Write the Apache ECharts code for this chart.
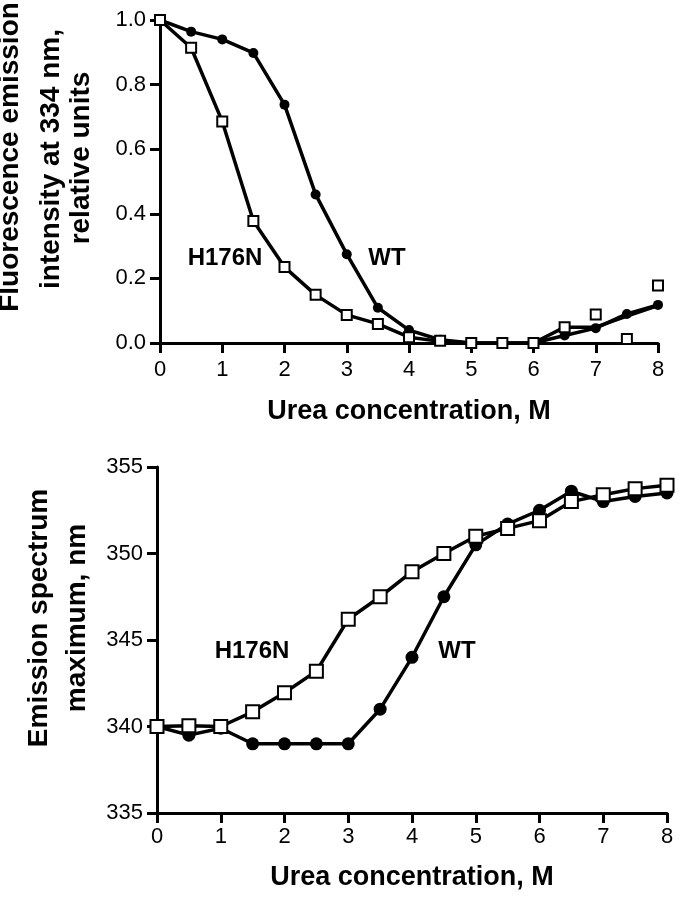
<!DOCTYPE html>
<html>
<head>
<meta charset="utf-8">
<script src="https://cdn.jsdelivr.net/npm/echarts@6/dist/echarts.min.js"></script>
<style>
html,body{margin:0;padding:0;background:#fff;}
#chart{width:683px;height:899px;}
</style>
</head>
<body>
<div id="chart"></div>
<script>
// Urea concentration, M
var urea = [0, 0.5, 1, 1.5, 2, 2.5, 3, 3.5, 4, 4.5, 5, 5.5, 6, 6.5, 7, 7.5, 8];
var xTicks = [0, 1, 2, 3, 4, 5, 6, 7, 8];

// Top panel: fluorescence emission intensity at 334 nm (relative units)
var wtIntensity    = [1.00, 0.964, 0.94, 0.898, 0.738, 0.46, 0.275, 0.109, 0.04, 0.01, 0, 0, 0, 0.023, 0.046, 0.09, 0.118];
var h176nIntensity = [1.00, 0.914, 0.686, 0.378, 0.235, 0.149, 0.087, 0.059, 0.018, 0.007, 0, 0, 0, 0.049, 0.088, 0.012, 0.178];
// fitted curve drawn through the H176N points
var h176nIntensityFit = [1.00, 0.914, 0.686, 0.378, 0.235, 0.149, 0.087, 0.059, 0.018, 0.005, 0, 0, 0, 0.049, 0.049, 0.083, 0.116];
var topYTicks = ['0.0', '0.2', '0.4', '0.6', '0.8', '1.0'];

// Bottom panel: emission spectrum maximum, nm
var wtMax    = [340.0, 339.5, 339.9, 339.0, 339.0, 339.0, 339.0, 341.0, 344.0, 347.5, 350.5, 351.7, 352.5, 353.6, 353.0, 353.3, 353.5];
var h176nMax = [340.0, 340.05, 340.0, 340.85, 341.95, 343.2, 346.2, 347.5, 348.95, 350.0, 351.0, 351.45, 351.9, 353.0, 353.4, 353.75, 353.95];

var labelCurves = ['H176N', 'WT'];
var topTitleLines = ['Fluorescence emission', 'intensity at 334 nm,', 'relative units'];
var bottomTitleLines = ['Emission spectrum', 'maximum, nm'];
var xTitle = 'Urea concentration, M';

function pairs(xs, ys) { return xs.map(function (x, i) { return [x, ys[i]]; }); }

var FONT = '"Liberation Sans", Arial, sans-serif';
var axisLineStyle = { color: '#000', width: 3 };

function xAxisCfg(gridIndex, gap, margin) {
  return {
    type: 'value', gridIndex: gridIndex, min: 0, max: 8, interval: 1,
    name: xTitle, nameLocation: 'middle', nameGap: gap,
    nameTextStyle: { fontFamily: FONT, fontWeight: 'bold', fontSize: 27, color: '#000' },
    axisLine: { show: true, onZero: false, lineStyle: axisLineStyle },
    axisTick: { show: true, length: 10, lineStyle: axisLineStyle },
    axisLabel: { fontFamily: FONT, fontSize: 22, color: '#000', margin: margin,
      formatter: function (v) { return xTicks.indexOf(v) >= 0 ? String(v) : ''; } },
    splitLine: { show: false }
  };
}

var option = {
  backgroundColor: '#fff',
  animation: false,
  grid: [
    { left: 160, right: 25, top: 20, bottom: 556 },
    { left: 157, right: 16, top: 467, bottom: 86 }
  ],
  xAxis: [xAxisCfg(0, 55, 16), xAxisCfg(1, 51, 13)],
  yAxis: [
    {
      type: 'value', gridIndex: 0, min: 0, max: 1, interval: 0.2,
      axisLine: { show: true, onZero: false, lineStyle: axisLineStyle },
      axisTick: { show: true, length: 10, lineStyle: axisLineStyle },
      axisLabel: { fontFamily: FONT, fontSize: 22, color: '#000', margin: 14,
        formatter: function (v) { return topYTicks[Math.round(v / 0.2)]; } },
      splitLine: { show: false }
    },
    {
      type: 'value', gridIndex: 1, min: 335, max: 355, interval: 5,
      axisLine: { show: true, onZero: false, lineStyle: axisLineStyle },
      axisTick: { show: true, length: 10, lineStyle: axisLineStyle },
      axisLabel: { fontFamily: FONT, fontSize: 22, color: '#000', margin: 14 },
      splitLine: { show: false }
    }
  ],
  series: [
    // top: WT line + filled circles
    { type: 'line', xAxisIndex: 0, yAxisIndex: 0, data: pairs(urea, wtIntensity),
      symbol: 'circle', symbolSize: 10, showAllSymbol: true,
      lineStyle: { color: '#000', width: 3.5 }, itemStyle: { color: '#000', opacity: 1 }, z: 3 },
    // top: H176N fitted line
    { type: 'line', xAxisIndex: 0, yAxisIndex: 0, data: pairs(urea, h176nIntensityFit),
      symbol: 'none', lineStyle: { color: '#000', width: 3.5 }, z: 2 },
    // top: H176N open squares
    { type: 'scatter', xAxisIndex: 0, yAxisIndex: 0, data: pairs(urea, h176nIntensity),
      symbol: 'rect', symbolSize: 10,
      itemStyle: { color: '#fff', borderColor: '#000', borderWidth: 2, opacity: 1 }, z: 4 },
    // bottom: WT
    { type: 'line', xAxisIndex: 1, yAxisIndex: 1, data: pairs(urea, wtMax),
      symbol: 'circle', symbolSize: 13, showAllSymbol: true,
      lineStyle: { color: '#000', width: 3.5 }, itemStyle: { color: '#000', opacity: 1 }, z: 3 },
    // bottom: H176N
    { type: 'line', xAxisIndex: 1, yAxisIndex: 1, data: pairs(urea, h176nMax),
      symbol: 'rect', symbolSize: 13, showAllSymbol: true,
      lineStyle: { color: '#000', width: 3.5 },
      itemStyle: { color: '#fff', borderColor: '#000', borderWidth: 2, opacity: 1 }, z: 4 }
  ],
  graphic: [
    { type: 'text', x: 10, y: 157, rotation: Math.PI / 2,
      style: { text: topTitleLines[0], font: 'bold 28px ' + FONT, fill: '#000', textAlign: 'center', textVerticalAlign: 'middle' } },
    { type: 'text', x: 51, y: 159, rotation: Math.PI / 2,
      style: { text: topTitleLines[1], font: 'bold 28px ' + FONT, fill: '#000', textAlign: 'center', textVerticalAlign: 'middle' } },
    { type: 'text', x: 81, y: 158, rotation: Math.PI / 2,
      style: { text: topTitleLines[2], font: 'bold 28px ' + FONT, fill: '#000', textAlign: 'center', textVerticalAlign: 'middle' } },
    { type: 'text', x: 39, y: 618, rotation: Math.PI / 2,
      style: { text: bottomTitleLines[0], font: 'bold 28px ' + FONT, fill: '#000', textAlign: 'center', textVerticalAlign: 'middle' } },
    { type: 'text', x: 77, y: 618, rotation: Math.PI / 2,
      style: { text: bottomTitleLines[1], font: 'bold 28px ' + FONT, fill: '#000', textAlign: 'center', textVerticalAlign: 'middle' } },
    { type: 'text', x: 225, y: 258,
      style: { text: labelCurves[0], font: 'bold 24px ' + FONT, fill: '#000', textAlign: 'center', textVerticalAlign: 'middle' } },
    { type: 'text', x: 387, y: 258,
      style: { text: labelCurves[1], font: 'bold 24px ' + FONT, fill: '#000', textAlign: 'center', textVerticalAlign: 'middle' } },
    { type: 'text', x: 252, y: 651,
      style: { text: labelCurves[0], font: 'bold 24px ' + FONT, fill: '#000', textAlign: 'center', textVerticalAlign: 'middle' } },
    { type: 'text', x: 457, y: 651,
      style: { text: labelCurves[1], font: 'bold 24px ' + FONT, fill: '#000', textAlign: 'center', textVerticalAlign: 'middle' } }
  ]
};

var chart = echarts.init(document.getElementById('chart'), null, { renderer: 'canvas' });
chart.setOption(option);
</script>
</body>
</html>
